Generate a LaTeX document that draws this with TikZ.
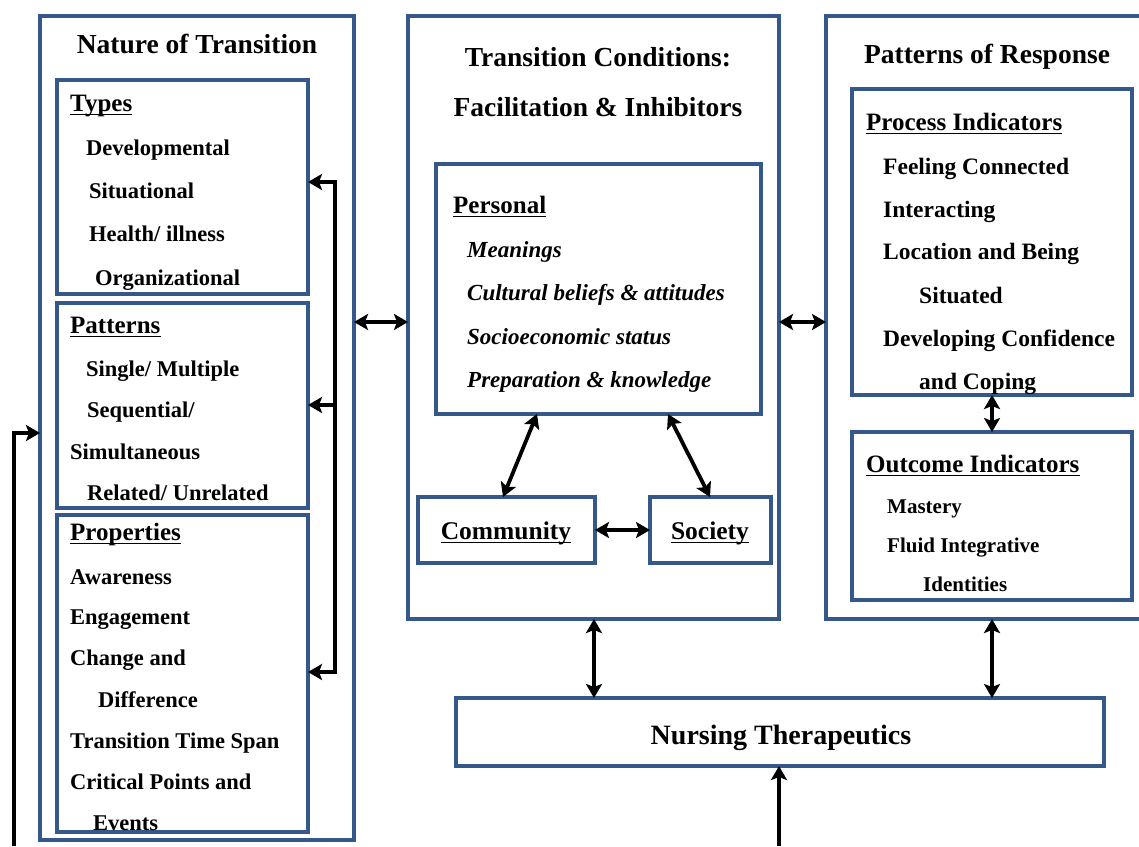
\documentclass[tikz,border=0pt]{standalone}
\usepackage{fontspec}
\setmainfont{Liberation Serif}
\usetikzlibrary{arrows.meta}
\definecolor{boxblue}{RGB}{52,88,138}
\newcommand\mybox[5]{\node[box, minimum width=#4pt, minimum height=#5pt] (#1) at (#2,#3) {};}
\begin{document}
\begin{tikzpicture}[x=1pt,y=-1pt,
  box/.style={draw=boxblue, line width=4pt, outer sep=0pt, inner sep=0pt, anchor=north west},
  it/.style={anchor=base west, inner sep=0pt, font=\fontsize{22.5}{27}\selectfont\bfseries},
  itr/.style={anchor=base west, inner sep=0pt, font=\fontsize{23.5}{27}\selectfont\bfseries},
  ito/.style={anchor=base west, inner sep=0pt, font=\fontsize{21}{25}\selectfont\bfseries},
  iti/.style={anchor=base west, inner sep=0pt, font=\fontsize{23}{27}\selectfont\bfseries\itshape},
  hd/.style={anchor=base west, inner sep=0pt, font=\fontsize{25}{30}\selectfont\bfseries},
  hdc/.style={anchor=base, inner sep=0pt, font=\fontsize{25.5}{30}\selectfont\bfseries},
  ttl/.style={anchor=base, inner sep=0pt, font=\fontsize{27.5}{32}\selectfont\bfseries},
  ulin/.style={line width=1.8pt},
  arr/.style={line width=3.8pt, {Stealth[length=14pt,width=16pt,inset=3pt]}-{Stealth[length=14pt,width=16pt,inset=3pt]}},
  arrone/.style={line width=3.8pt, -{Stealth[length=14pt,width=16pt,inset=3pt]}}
]
\useasboundingbox (0,0) rectangle (1139,846);

% boxes
\mybox{left}{40}{16}{314}{824}
\mybox{types}{57}{80}{251}{214}
\mybox{patterns}{57}{303}{251}{205}
\mybox{props}{57}{515}{251}{317}
\mybox{mid}{408}{16}{371}{603}
\mybox{personal}{436}{164}{325}{250}
\mybox{community}{418}{497}{177}{66}
\mybox{society}{650}{497}{121}{66}
\mybox{right}{826}{16}{324}{603}
\mybox{process}{852}{89}{280}{306}
\mybox{outcome}{852}{432}{280}{168}
\mybox{nursing}{456}{698}{648}{68}

% left column text
\node[ttl] (tNature) at (197,53) {Nature of Transition};
\node[hd] (hTypes) at (70,111) {Types};
\node[it] (t1) at (86,155) {Developmental};
\node[it] (t2) at (89,198) {Situational};
\node[it] (t3) at (89,241) {Health/ illness};
\node[it] (t4) at (95,285) {Organizational};
\node[hd] (hPatterns) at (70,333) {Patterns};
\node[it] (t5) at (86,376) {Single/ Multiple};
\node[it] (t6) at (87,417) {Sequential/};
\node[it] (t7) at (70,459) {Simultaneous};
\node[it] (t8) at (87,500) {Related/ Unrelated};
\node[hd] (hProps) at (70,540) {Properties};
\node[it] (t9) at (70,584) {Awareness};
\node[it] (t10) at (70,624) {Engagement};
\node[it] (t11) at (70,665) {Change and};
\node[it] (t12) at (98,707) {Difference};
\node[it] (t13) at (70,748) {Transition Time Span};
\node[it] (t14) at (70,789) {Critical Points and};
\node[it] (t15) at (93,830) {Events};

% middle text
\node[ttl] (tCond1) at (598,66) {Transition Conditions:};
\node[ttl] (tCond2) at (598,116) {Facilitation \& Inhibitors};
\node[hd] (hPersonal) at (453,213) {Personal};
\node[iti] (p1) at (467,257) {Meanings};
\node[iti] (p2) at (467,300) {Cultural beliefs \& attitudes};
\node[iti] (p3) at (467,344) {Socioeconomic status};
\node[iti] (p4) at (467,387) {Preparation \& knowledge};
\node[hdc] (hCommunity) at (506,539) {Community};
\node[hdc] (hSociety) at (710,539) {Society};

% right text
\node[ttl] (tResp) at (987,63) {Patterns of Response};
\node[hd] (hProcess) at (866,130) {Process Indicators};
\node[itr] (r1) at (883,174) {Feeling Connected};
\node[itr] (r2) at (883,217) {Interacting};
\node[itr] (r3) at (883,259) {Location and Being};
\node[itr] (r4) at (919,303) {Situated};
\node[itr] (r5) at (883,346) {Developing Confidence};
\node[itr] (r6) at (919,389) {and Coping};
\node[hd] (hOutcome) at (866,472) {Outcome Indicators};
\node[ito] (o1) at (887,513) {Mastery};
\node[ito] (o2) at (887,552) {Fluid Integrative};
\node[ito] (o3) at (923,591) {Identities};

\node[ttl, font=\fontsize{28}{32}\selectfont\bfseries] (tNursing) at (781,744) {Nursing Therapeutics};

% underlines
\foreach \n in {hTypes,hPatterns,hProps,hPersonal,hCommunity,hSociety,hProcess,hOutcome}
  \draw[ulin] ([yshift=-3.5pt]\n.base west) -- ([yshift=-3.5pt]\n.base east);

% connectors
\coordinate (yLM) at (0,322);
\draw[arr] (left.east |- yLM) -- (mid.west |- yLM);
\draw[arr] (mid.east |- yLM) -- (right.west |- yLM);
\coordinate (x594) at (594,0);
\coordinate (x992) at (992,0);
\draw[arr] (mid.south -| x594) -- (nursing.north -| x594);
\draw[arr] (right.south -| x992) -- (nursing.north -| x992);
\draw[arr] (process.south -| x992) -- (outcome.north -| x992);
\draw[arr] (community.east) -- (society.west);
\coordinate (x537) at (537,0);
\coordinate (x503) at (503,0);
\coordinate (x668) at (668,0);
\coordinate (x710) at (710,0);
\draw[arr] (personal.south -| x537) -- (community.north -| x503);
\draw[arr] (personal.south -| x668) -- (society.north -| x710);

% bracket on the left
\coordinate (bt) at (335,182);
\coordinate (bm) at (335,405);
\coordinate (bb) at (335,672);
\draw[arr] (types.east |- bt) -- (bt) -- (bb) -- (props.east |- bb);
\draw[arrone] (bm) -- (patterns.east |- bm);

% feedback line
\coordinate (fb) at (14,846);
\coordinate (fy) at (0,433);
\draw[arrone] (fb) |- (left.west |- fy);

% bottom arrow
\coordinate (nb) at (779,846);
\draw[arrone] (nb) -- (nursing.south -| nb);
\end{tikzpicture}
\end{document}
